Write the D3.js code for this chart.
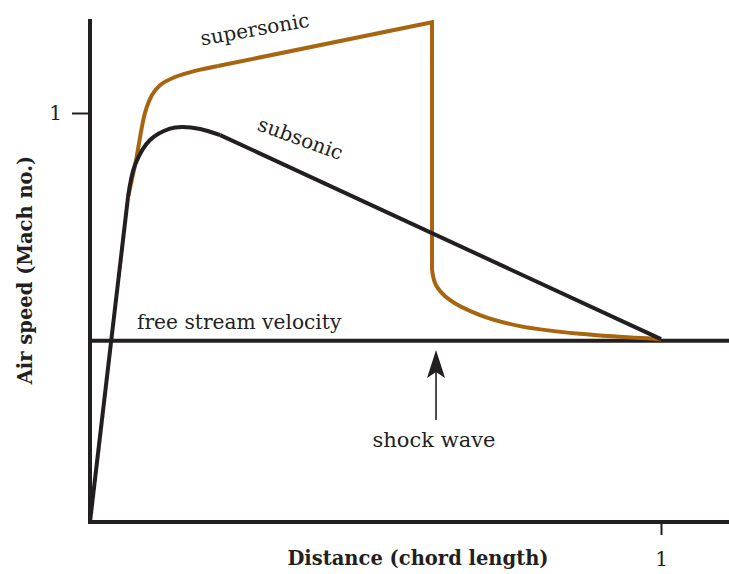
<!DOCTYPE html>
<html>
<head>
<meta charset="utf-8">
<script src="https://cdn.jsdelivr.net/npm/d3@7"></script>
<style>
  html, body { margin: 0; padding: 0; background: #fff; }
  svg { display: block; }
  text { font-family: "DejaVu Serif", "Liberation Serif", serif; fill: #231f20; }
</style>
</head>
<body>
<svg id="chart" width="729" height="574"></svg>
<script>
// Distance along the chord (fraction of chord length) vs air speed (Mach number)
const freeStream = 0.443;
const shockX = 0.599;

// Subsonic flow: leading-edge ramp, rounded peak, then linear decay to the trailing edge
const subsonicRamp = [[0, 0], [0.0666, 0.7946]];
const subsonicPeak = [[0.0666, 0.7946], [0.0788, 0.873], [0.105, 0.934], [0.140, 0.962],
                      [0.161, 0.966], [0.193, 0.961], [0.228, 0.946]];
const subsonicTail = [[0.228, 0.946], [1.0, 0.447]];

// Supersonic flow: acceleration, linear rise to the shock, sudden drop, recovery
const supersonicRise = [[0.0666, 0.7946], [0.0806, 0.885], [0.0963, 1.0], [0.1086, 1.044],
                        [0.1226, 1.068], [0.1489, 1.088], [0.184, 1.103], [0.224, 1.115]];
const supersonicShock = [[0.224, 1.115], [shockX, 1.222], [shockX, 0.616]];
const supersonicRecovery = [[shockX, 0.616], [0.606, 0.579], [0.630, 0.543], [0.683, 0.506],
                            [0.753, 0.479], [0.858, 0.460], [1.0, 0.447]];

const xTicks = [1];
const yTicks = [1];

const ink = "#231f20";
const amber = "#a8650f";

const svg = d3.select("#chart");
const x = d3.scaleLinear().domain([0, 1]).range([90, 661]);
const y = d3.scaleLinear().domain([0, 1]).range([522, 113]);

const straight = d3.line().x(d => x(d[0])).y(d => y(d[1]));
const smooth = d3.line().x(d => x(d[0])).y(d => y(d[1])).curve(d3.curveCatmullRom.alpha(0.5));

// Axes
const xAxis = d3.axisBottom(x).tickValues(xTicks).tickSize(13).tickPadding(17).tickFormat(d3.format("d"));
const yAxis = d3.axisLeft(y).tickValues(yTicks).tickSize(18).tickPadding(10).tickFormat(d3.format("d"));

const gx = svg.append("g").attr("transform", `translate(0,${y(0)})`).call(xAxis);
gx.select(".domain").remove();
gx.selectAll(".tick line").attr("stroke", ink).attr("stroke-width", 2);
gx.selectAll(".tick text").attr("font-size", 20).attr("fill", ink)
  .style("font-family", "DejaVu Serif, serif");

const gy = svg.append("g").attr("transform", `translate(${x(0)},0)`).call(yAxis);
gy.select(".domain").remove();
gy.selectAll(".tick line").attr("stroke", ink).attr("stroke-width", 2);
gy.selectAll(".tick text").attr("font-size", 20).attr("fill", ink)
  .style("font-family", "DejaVu Serif, serif");

// Axis lines
svg.append("line").attr("x1", x(0)).attr("x2", x(0)).attr("y1", y(1.23)).attr("y2", y(0) + 2)
  .attr("stroke", ink).attr("stroke-width", 4);
svg.append("line").attr("x1", x(0) - 2).attr("x2", 729).attr("y1", y(0)).attr("y2", y(0))
  .attr("stroke", ink).attr("stroke-width", 4);

// Free stream reference
svg.append("line").attr("x1", x(0)).attr("x2", 729).attr("y1", y(freeStream)).attr("y2", y(freeStream))
  .attr("stroke", ink).attr("stroke-width", 4);

// Supersonic curve
const supG = svg.append("g").attr("fill", "none").attr("stroke", amber).attr("stroke-width", 4)
  .attr("stroke-linejoin", "miter");
supG.append("path").attr("d", smooth(supersonicRise));
supG.append("path").attr("d", straight(supersonicShock));
supG.append("path").attr("d", smooth(supersonicRecovery));

// Subsonic curve
const subG = svg.append("g").attr("fill", "none").attr("stroke", ink).attr("stroke-width", 4)
  .attr("stroke-linejoin", "round");
subG.append("path").attr("d", straight(subsonicRamp));
subG.append("path").attr("d", smooth(subsonicPeak));
subG.append("path").attr("d", straight(subsonicTail));

// Shock wave arrow
const ax = x(shockX) + 4;
svg.append("line").attr("x1", ax).attr("x2", ax).attr("y1", 420).attr("y2", 372)
  .attr("stroke", ink).attr("stroke-width", 1.6);
svg.append("path")
  .attr("d", `M${ax},350 L${ax + 9},378 L${ax},372 L${ax - 9},378 Z`)
  .attr("fill", ink);

// Labels
svg.append("text").attr("x", ax - 2).attr("y", 447).attr("text-anchor", "middle")
  .attr("font-size", 21).text("shock wave");
svg.append("text").attr("x", 137).attr("y", 329).attr("font-size", 20.2).text("free stream velocity");
svg.append("text").attr("transform", "translate(256,36) rotate(-10)").attr("text-anchor", "middle")
  .attr("font-size", 20).text("supersonic");
svg.append("text").attr("transform", "translate(298,145) rotate(20)").attr("text-anchor", "middle")
  .attr("font-size", 20).text("subsonic");

svg.append("text").attr("x", 418).attr("y", 565).attr("text-anchor", "middle")
  .attr("font-size", 19.5).attr("font-weight", "bold").text("Distance (chord length)");
svg.append("text").attr("transform", "translate(32,270) rotate(-90)").attr("text-anchor", "middle")
  .attr("font-size", 19.5).attr("font-weight", "bold").text("Air speed (Mach no.)");
</script>
</body>
</html>
